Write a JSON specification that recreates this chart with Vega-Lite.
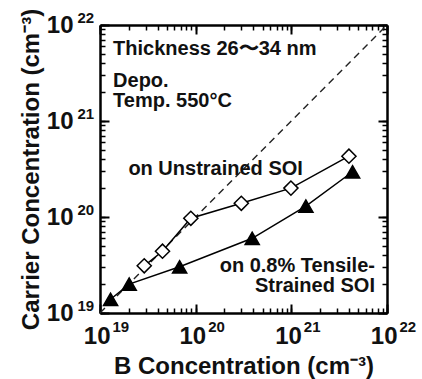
{
  "$schema": "https://vega.github.io/schema/vega-lite/v6.json",
  "autosize": "none",
  "width": 287,
  "height": 288,
  "padding": {"left": 100, "top": 25, "right": 35, "bottom": 66},
  "background": "white",
  "config": {
    "font": "Liberation Sans",
    "view": {"stroke": null},
    "axis": {"grid": false, "domain": false, "labelOverlap": false}
  },
  "datasets": {
    "diag": [{"b": 1e19, "c": 1e19}, {"b": 1e22, "c": 1e22}],
    "points": [
      {"series": "Unstrained", "b": 2.9e19, "c": 3.1e19},
      {"series": "Unstrained", "b": 4.5e19, "c": 4.4e19},
      {"series": "Unstrained", "b": 8.9e19, "c": 9.7e19},
      {"series": "Unstrained", "b": 3.0e20, "c": 1.39e20},
      {"series": "Unstrained", "b": 9.9e20, "c": 2.0e20},
      {"series": "Unstrained", "b": 4.0e21, "c": 4.3e20},
      {"series": "Strained", "b": 1.29e19, "c": 1.39e19},
      {"series": "Strained", "b": 2.02e19, "c": 2.0e19},
      {"series": "Strained", "b": 6.8e19, "c": 3.03e19},
      {"series": "Strained", "b": 3.9e20, "c": 6.0e19},
      {"series": "Strained", "b": 1.42e21, "c": 1.3e20},
      {"series": "Strained", "b": 4.37e21, "c": 2.96e20}
    ],
    "labelsLeft": [
      {"b": 1.37e19, "c": 4.87e21, "text": "Thickness 26〜34 nm"},
      {"b": 1.37e19, "c": 2.28e21, "text": "Depo."},
      {"b": 1.37e19, "c": 1.41e21, "text": "Temp. 550°C"},
      {"b": 1.98e19, "c": 2.74e20, "text": "on Unstrained SOI"}
    ],
    "labelsRight": [
      {"b": 7.48e21, "c": 2.69e19, "text": "on 0.8% Tensile-"},
      {"b": 7.48e21, "c": 1.67e19, "text": "Strained SOI"}
    ]
  },
  "resolve": {"axis": {"x": "independent", "y": "independent"}},
  "layer": [
    {
      "data": {"name": "diag"},
      "mark": {"type": "line", "color": "#222222", "strokeWidth": 1.4, "strokeDash": [7, 5]},
      "encoding": {
        "x": {"field": "b", "type": "quantitative",
          "scale": {"type": "log", "domain": [1e19, 1e22], "nice": false},
          "axis": {
            "orient": "bottom",
            "values": [1e19, 1e20, 1e21, 1e22],
            "domain": true, "domainColor": "black", "domainWidth": 2.5,
            "tickSize": -9, "tickColor": "black", "tickWidth": 2,
            "labelExpr": "'10'",
            "labelPadding": 20,
            "labelOffset": 10,
            "labelAlign": "right",
            "labelFontSize": 24,
            "labelFontWeight": "bold",
            "labelColor": "#111111",
            "labelBaseline": "top",
            "title": "B Concentration (cm⁻³)",
            "titleFontSize": 24,
            "titleFontWeight": "bold",
            "titleColor": "#111111",
            "titlePadding": 6
          }
        },
        "y": {"field": "c", "type": "quantitative",
          "scale": {"type": "log", "domain": [1e19, 1e22], "nice": false},
          "axis": {
            "orient": "left",
            "values": [1e19, 1e20, 1e21, 1e22],
            "domain": true, "domainColor": "black", "domainWidth": 2.5,
            "tickSize": -9, "tickColor": "black", "tickWidth": 2,
            "labelExpr": "'10'",
            "labelPadding": 36,
            "labelFontSize": 24,
            "labelFontWeight": "bold",
            "labelColor": "#111111",
            "labelBaseline": "middle",
            "labelAlign": "right",
            "title": "Carrier Concentration (cm⁻³)",
            "titleFontSize": 24,
            "titleFontWeight": "bold",
            "titleColor": "#111111",
            "titlePadding": 3
          }
        }
      }
    },
    {
      "data": {"name": "points"},
      "mark": {"type": "line", "color": "black", "strokeWidth": 1.5},
      "encoding": {
        "x": {"field": "b", "type": "quantitative",
          "scale": {"type": "log", "domain": [1e19, 1e22], "nice": false},
          "axis": {
            "orient": "bottom",
            "values": [1e19, 2e19, 3e19, 4e19, 5e19, 6e19, 7e19, 8e19, 9e19, 1e20, 2e20, 3e20, 4e20, 5e20, 6e20, 7e20, 8e20, 9e20, 1e21, 2e21, 3e21, 4e21, 5e21, 6e21, 7e21, 8e21, 9e21, 1e22],
            "tickSize": -5, "tickColor": "black", "tickWidth": 1.5,
            "labelExpr": "abs(log(datum.value)/LN10 - round(log(datum.value)/LN10)) < 0.001 ? '' + round(log(datum.value)/LN10) : ''",
            "labelPadding": 11,
            "labelOffset": 12,
            "labelAlign": "left",
            "labelFontSize": 15,
            "labelFontWeight": "bold",
            "labelColor": "#111111",
            "labelBaseline": "top",
            "title": null
          }
        },
        "y": {"field": "c", "type": "quantitative",
          "scale": {"type": "log", "domain": [1e19, 1e22], "nice": false},
          "axis": {
            "orient": "left",
            "values": [1e19, 2e19, 3e19, 4e19, 5e19, 6e19, 7e19, 8e19, 9e19, 1e20, 2e20, 3e20, 4e20, 5e20, 6e20, 7e20, 8e20, 9e20, 1e21, 2e21, 3e21, 4e21, 5e21, 6e21, 7e21, 8e21, 9e21, 1e22],
            "tickSize": -5, "tickColor": "black", "tickWidth": 1.5,
            "labelExpr": "abs(log(datum.value)/LN10 - round(log(datum.value)/LN10)) < 0.001 ? '' + round(log(datum.value)/LN10) : ''",
            "labelPadding": 28,
            "labelOffset": -8,
            "labelAlign": "left",
            "labelFontSize": 15,
            "labelFontWeight": "bold",
            "labelColor": "#111111",
            "labelBaseline": "middle",
            "title": null
          }
        },
        "detail": {"field": "series", "type": "nominal"}
      }
    },
    {
      "data": {"name": "points"},
      "mark": {"type": "point", "size": 200, "opacity": 1, "strokeWidth": 1.5, "stroke": "black", "filled": false},
      "encoding": {
        "x": {"field": "b", "type": "quantitative", "scale": {"type": "log", "domain": [1e19, 1e22], "nice": false},
          "axis": {"orient": "top", "values": [1e19, 1e20, 1e21, 1e22], "domain": true, "domainColor": "black", "domainWidth": 2.5, "tickSize": -9, "tickColor": "black", "tickWidth": 2, "labelExpr": "''", "title": null}},
        "y": {"field": "c", "type": "quantitative", "scale": {"type": "log", "domain": [1e19, 1e22], "nice": false},
          "axis": {"orient": "right", "values": [1e19, 1e20, 1e21, 1e22], "domain": true, "domainColor": "black", "domainWidth": 2.5, "tickSize": -9, "tickColor": "black", "tickWidth": 2, "labelExpr": "''", "title": null}},
        "shape": {"field": "series", "type": "nominal", "scale": {"domain": ["Unstrained", "Strained"], "range": ["diamond", "triangle-up"]}, "legend": null},
        "fill": {"field": "series", "type": "nominal", "scale": {"domain": ["Unstrained", "Strained"], "range": ["white", "black"]}, "legend": null}
      }
    },
    {
      "data": {"name": "labelsLeft"},
      "mark": {"type": "text", "align": "left", "baseline": "alphabetic", "fontSize": 20, "fontWeight": "bold", "color": "#111111"},
      "encoding": {
        "x": {"field": "b", "type": "quantitative", "scale": {"type": "log", "domain": [1e19, 1e22], "nice": false},
          "axis": {"orient": "top", "values": [1e19, 2e19, 3e19, 4e19, 5e19, 6e19, 7e19, 8e19, 9e19, 1e20, 2e20, 3e20, 4e20, 5e20, 6e20, 7e20, 8e20, 9e20, 1e21, 2e21, 3e21, 4e21, 5e21, 6e21, 7e21, 8e21, 9e21, 1e22], "tickSize": -5, "tickColor": "black", "tickWidth": 1.5, "labelExpr": "''", "title": null}},
        "y": {"field": "c", "type": "quantitative", "scale": {"type": "log", "domain": [1e19, 1e22], "nice": false},
          "axis": {"orient": "right", "values": [1e19, 2e19, 3e19, 4e19, 5e19, 6e19, 7e19, 8e19, 9e19, 1e20, 2e20, 3e20, 4e20, 5e20, 6e20, 7e20, 8e20, 9e20, 1e21, 2e21, 3e21, 4e21, 5e21, 6e21, 7e21, 8e21, 9e21, 1e22], "tickSize": -5, "tickColor": "black", "tickWidth": 1.5, "labelExpr": "''", "title": null}},
        "text": {"field": "text"}
      }
    },
    {
      "data": {"name": "labelsRight"},
      "mark": {"type": "text", "align": "right", "baseline": "alphabetic", "fontSize": 20, "fontWeight": "bold", "color": "#111111"},
      "encoding": {
        "x": {"field": "b", "type": "quantitative", "scale": {"type": "log", "domain": [1e19, 1e22], "nice": false}, "axis": null},
        "y": {"field": "c", "type": "quantitative", "scale": {"type": "log", "domain": [1e19, 1e22], "nice": false}, "axis": null},
        "text": {"field": "text"}
      }
    }
  ]
}
